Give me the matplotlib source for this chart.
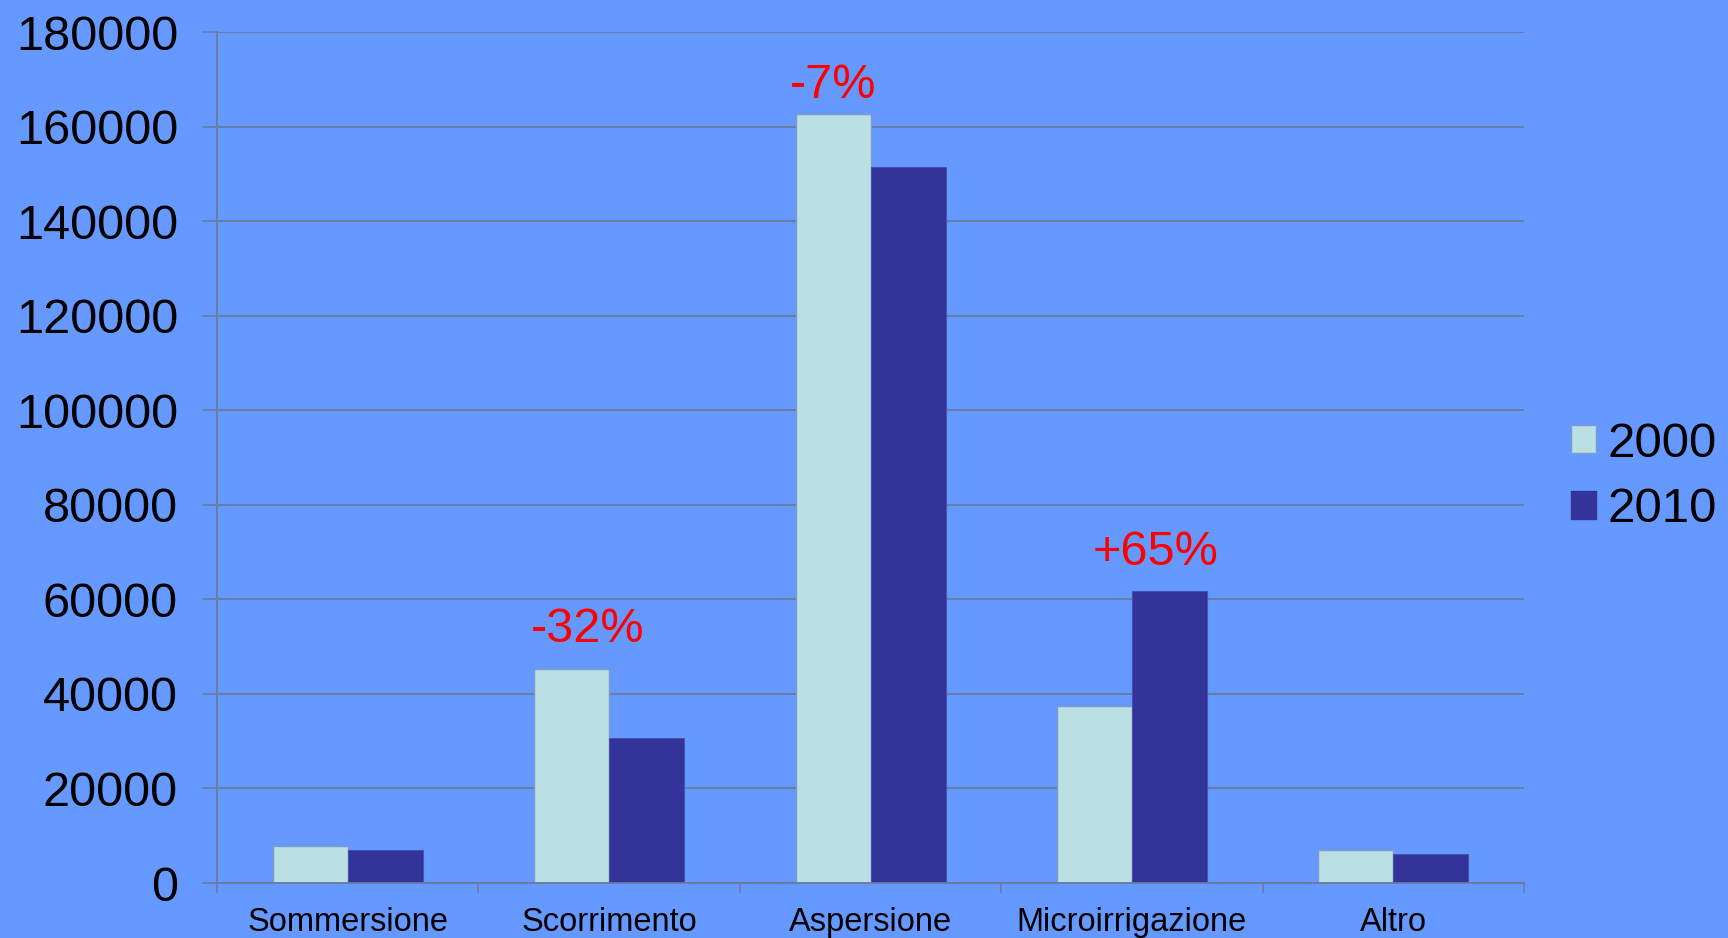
import matplotlib
matplotlib.use("Agg")
import matplotlib.pyplot as plt
import numpy as np
from matplotlib.patches import Patch

categories = ["Sommersione", "Scorrimento", "Aspersione", "Microirrigazione", "Altro"]
series_names = ["2000", "2010"]
values_2000 = [7800, 45300, 162600, 37500, 6900]
values_2010 = [7000, 30600, 151400, 61800, 6200]
yticks = [0, 20000, 40000, 60000, 80000, 100000, 120000, 140000, 160000, 180000]
annotations = ["-7%", "-32%", "+65%"]
annot_x = [1.857, 0.919, 3.092]
annot_y = [166000, 51000, 67300]

BG = "#6699FF"
C2000 = "#BAE0E3"
C2010 = "#333399"
GRID = "#687A9C"

plt.rcParams['font.family'] = ['Liberation Sans', 'DejaVu Sans']

fig = plt.figure(figsize=(17.28, 9.38), dpi=100, facecolor=BG)
ax = fig.add_axes([217/1728, 1-883/938, (1524-217)/1728, (883-32)/938])
ax.set_facecolor(BG)

x = np.arange(len(categories))
w = 75/261.4
ax.bar(x - w/2, values_2000, width=w, color=C2000, edgecolor="#7C9BCB", linewidth=1.0, zorder=3)
ax.bar(x + w/2, values_2010, width=w, color=C2010, edgecolor="#4255B0", linewidth=0.8, zorder=3)

ax.set_xlim(-0.5, len(categories) - 0.5)
ax.set_ylim(0, 180000)
ax.set_yticks(yticks)
ax.set_yticklabels([str(v) for v in yticks], fontsize=35)
ax.tick_params(axis='y', length=11, width=1.1, color=GRID, pad=17, labelcolor='black')

ax.set_xticks(x)
ax.set_xticklabels(categories, fontsize=23.5)
ax.tick_params(axis='x', which='major', length=0, pad=17)
ax.set_xticks(np.arange(-0.5, len(categories), 1.0), minor=True)
ax.tick_params(axis='x', which='minor', length=7.5, width=1.1, color=GRID)

ax.grid(axis='y', color=GRID, linewidth=1.3, zorder=0)
ax.set_axisbelow(True)
for s in ['top', 'right']:
    ax.spines[s].set_visible(False)
for s in ['left', 'bottom']:
    ax.spines[s].set_color(GRID)
    ax.spines[s].set_linewidth(1.3)
ax.spines['bottom'].set_zorder(4)

for t, xx, yy in zip(annotations, annot_x, annot_y):
    ax.text(xx, yy, t, color='#FF0000', fontsize=35, ha='center', va='baseline', zorder=5)

handles = [Patch(facecolor=C2000, edgecolor="#7C9BCB", linewidth=1.0),
           Patch(facecolor=C2010, edgecolor=C2010)]
leg = fig.legend(handles, series_names, loc='center left', bbox_to_anchor=(1571/1728, 1-477/938),
                 frameon=False, fontsize=35.5, handlelength=0.5, handleheight=0.5,
                 handletextpad=0.25, labelspacing=0.42, borderpad=0, borderaxespad=0)

fig.savefig("out.png", dpi=100, facecolor=BG)
